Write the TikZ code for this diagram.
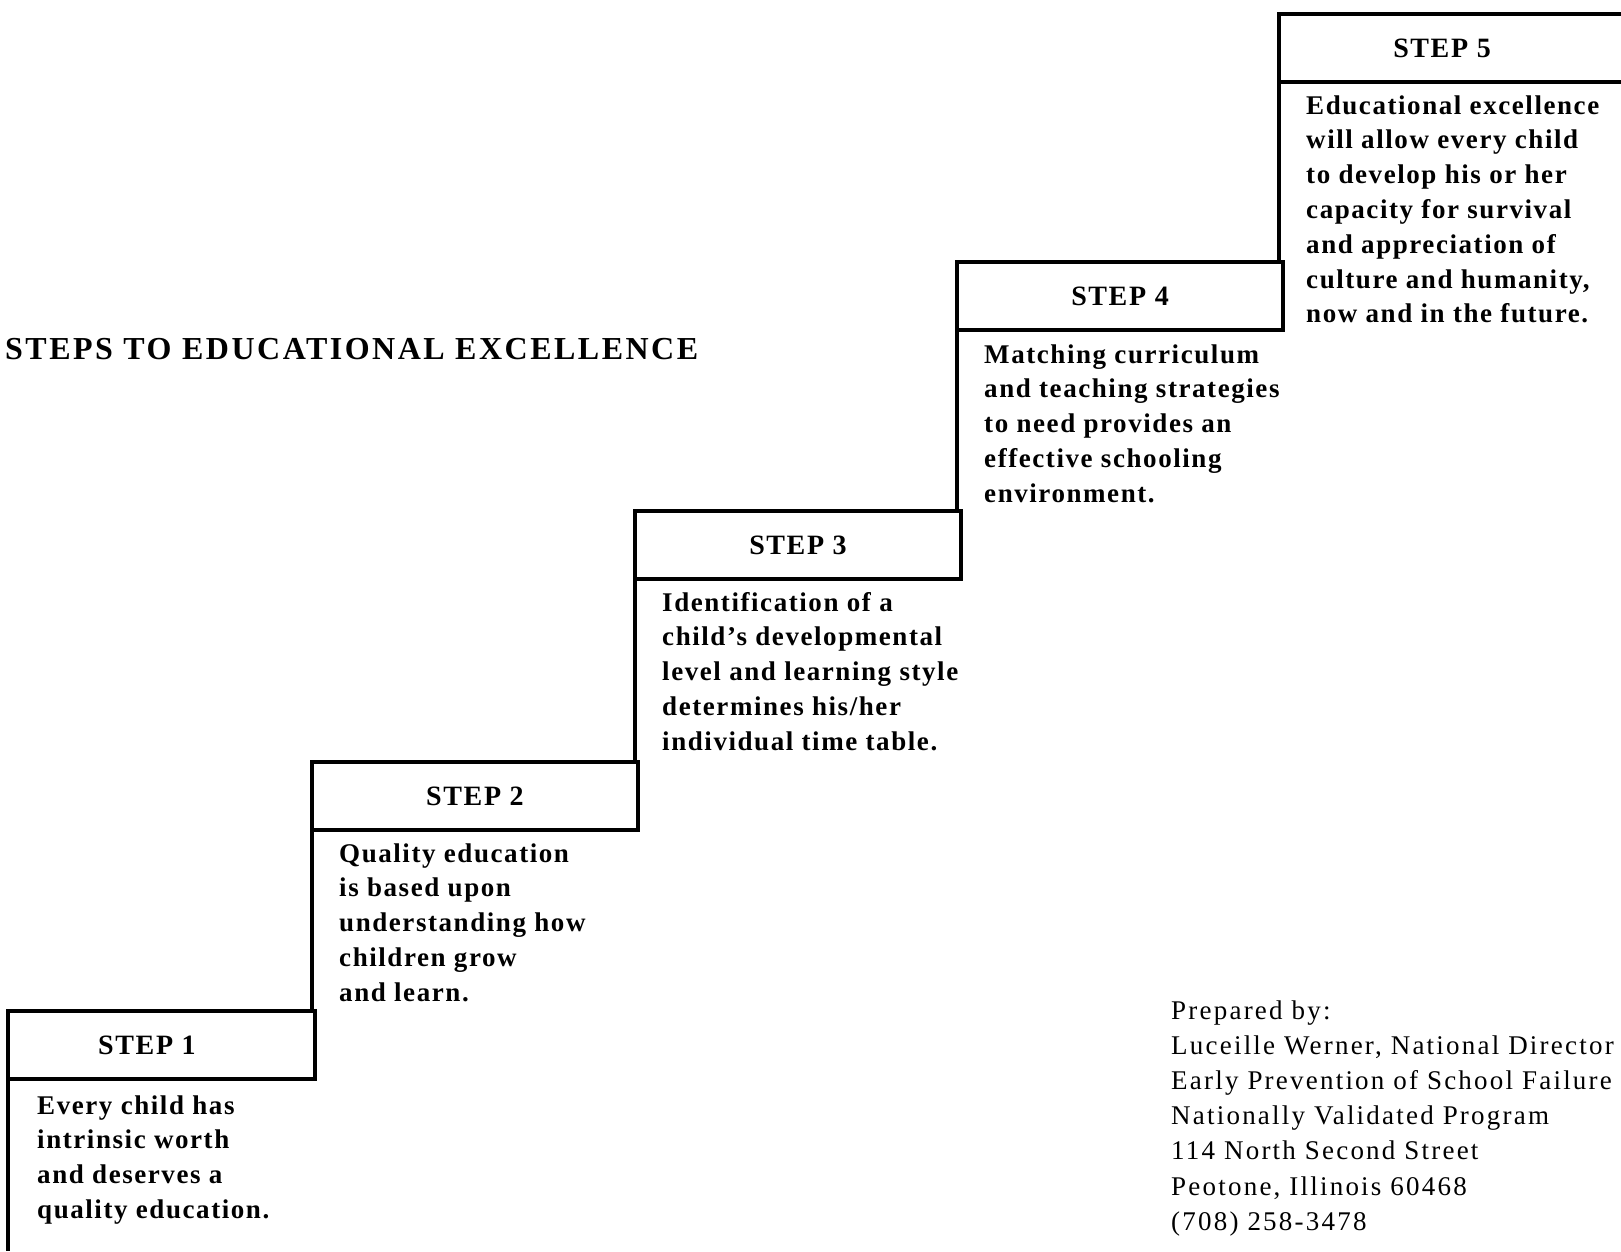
\documentclass[tikz,border=0pt]{standalone}
\usepackage{fontspec}
\setmainfont{Liberation Serif}
\newfontfamily\stepfam[LetterSpace=5.8]{Liberation Serif}
\newfontfamily\titlefam[LetterSpace=7.8]{Liberation Serif}
\newfontfamily\prepfam[LetterSpace=8.2]{Liberation Serif}
\newcommand{\stepfont}{\stepfam\bfseries\fontsize{27}{34.8}\selectfont}
\newcommand{\hdrfont}{\stepfam\bfseries\fontsize{28}{34.8}\selectfont}
\newcommand{\titlefont}{\titlefam\bfseries\fontsize{32}{38}\selectfont}
\newcommand{\prepfont}{\prepfam\fontsize{27}{35.2}\selectfont}
\begin{document}
\begin{tikzpicture}[x=1pt,y=-1pt,
  boxline/.style={line width=3.1pt},
  hdr/.style={draw, line width=3.1pt, minimum height=68pt, inner sep=0pt,
    outer sep=0pt, anchor=north west, font=\hdrfont},
  body/.style={anchor=base west, align=left, inner sep=0pt, font=\stepfont},
  ]
\useasboundingbox (0,0) rectangle (1621,1251);

% headers
\node[hdr, minimum width=307pt] (h1) at (8,1011) {STEP 1\hspace*{29pt}};
\node[hdr, minimum width=326pt] (h2) at (312,762) {STEP 2};
\node[hdr, minimum width=326pt] (h3) at (635,511) {STEP 3};
\node[hdr, minimum width=326pt] (h4) at (957,262) {STEP 4};
\node[hdr, draw=none, minimum width=326pt] (h5) at (1279,14) {STEP 5};

% step texts
\node[body] (t1) at (37,1114) {\begin{tabular}[t]{@{}l@{}}Every child has\\intrinsic worth\\and deserves a\\quality education.\end{tabular}};
\node[body] (t2) at (339,862) {\begin{tabular}[t]{@{}l@{}}Quality education\\is based upon\\understanding how\\children grow\\and learn.\end{tabular}};
\node[body] (t3) at (662,611) {\begin{tabular}[t]{@{}l@{}}Identification of a\\child’s developmental\\level and learning style\\determines his/her\\individual time table.\end{tabular}};
\node[body] (t4) at (984,363) {\begin{tabular}[t]{@{}l@{}}Matching curriculum\\and teaching strategies\\to need provides an\\effective schooling\\environment.\end{tabular}};
\node[body] (t5) at (1306,114) {\begin{tabular}[t]{@{}l@{}}Educational excellence\\will allow every child\\to develop his or her\\capacity for survival\\and appreciation of\\culture and humanity,\\now and in the future.\end{tabular}};

% title
\node[anchor=base west, inner sep=0pt, font=\titlefont] (title) at (5,359) {STEPS TO EDUCATIONAL EXCELLENCE};

% prepared by
\node[anchor=base west, inner sep=0pt, font=\prepfont] (prep) at (1171,1019) {\begin{tabular}[t]{@{}l@{}}Prepared by:\\Luceille Werner, National Director\\Early Prevention of School Failure\\Nationally Validated Program\\114 North Second Street\\Peotone, Illinois 60468\\(708) 258-3478\end{tabular}};

% connectors (stair risers)
\coordinate (bottom) at (8,1251);
\coordinate (redge) at (1621,0);
\draw[boxline] (h1.south west) -- (h1.south west |- bottom);
\draw[boxline] (h2.south west) -- (h2.south west |- h1.north);
\draw[boxline] (h3.south west) -- (h3.south west |- h2.north);
\draw[boxline] (h4.south west) -- (h4.south west |- h3.north);
\draw[boxline] (h5.south west) -- (h5.south west |- h4.north);
\draw[boxline] (h5.north west -| redge) -- (h5.north west) -- (h5.south west) -- (h5.south west -| redge);
\end{tikzpicture}
\end{document}
